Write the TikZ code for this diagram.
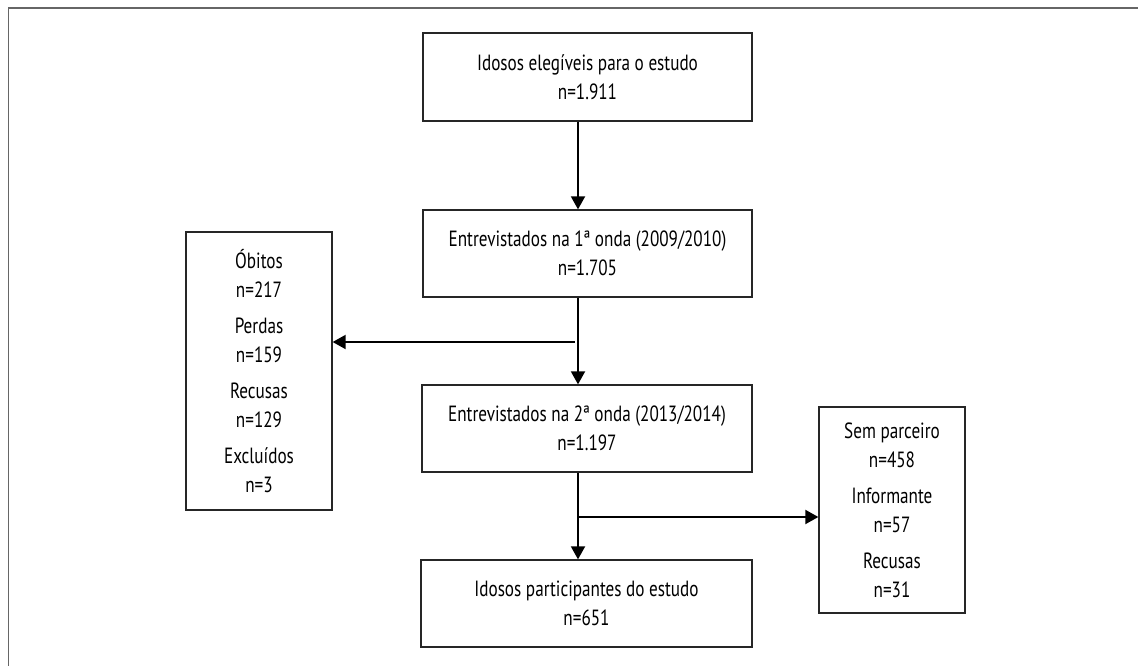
\documentclass[tikz,border=0pt]{standalone}
\usepackage{fontspec}
\setmainfont{PT Sans}[FakeStretch=0.78]
\usetikzlibrary{arrows.meta,calc}
\begin{document}
\begin{tikzpicture}[x=1pt,y=-1pt,
  box/.style={draw=black!85,line width=1.3pt,align=center,inner sep=0pt,
    font=\fontsize{22}{29}\selectfont},
  arr/.style={line width=1.9pt,-{Triangle[width=14pt,length=13pt]}},
  frame/.style={draw=black!60,line width=1.6pt}]
\useasboundingbox (0,0) rectangle (1138,666);
\draw[frame] (8.5,666) -- (8.5,8) -- (1138,8);
\node[box,minimum width=329pt,minimum height=88pt] (b1) at (587.5,77)
  {Idosos elegíveis para o estudo\\n=1.911};
\node[box,minimum width=329pt,minimum height=87pt] (b2) at (587.5,253.5)
  {Entrevistados na 1ª onda (2009/2010)\\n=1.705};
\node[box,minimum width=330pt,minimum height=87pt] (b3) at (587,428.5)
  {Entrevistados na 2ª onda (2013/2014)\\n=1.197};
\node[box,minimum width=331pt,minimum height=87pt] (b4) at (586.5,603.5)
  {Idosos participantes do estudo\\n=651};
\node[box,minimum width=146pt,minimum height=278pt] (lb) at (259,371)
  {Óbitos\\n=217\\[7pt]Perdas\\n=159\\[7pt]Recusas\\n=129\\[7pt]Excluídos\\n=3};
\node[box,minimum width=146pt,minimum height=206pt] (rb) at (892,510)
  {Sem parceiro\\n=458\\[7pt]Informante\\n=57\\[7pt]Recusas\\n=31};
\coordinate (v) at (578,0);
\coordinate (h1) at (575,342);
\coordinate (h2) at (577,517);
\draw[arr] (b1.south -| v) -- (b2.north -| v);
\draw[arr] (b2.south -| v) -- (b3.north -| v);
\draw[arr] (b3.south -| v) -- (b4.north -| v);
\draw[arr] (h1) -- (h1 -| lb.east);
\draw[arr] (h2) -- (h2 -| rb.west);
\end{tikzpicture}
\end{document}
